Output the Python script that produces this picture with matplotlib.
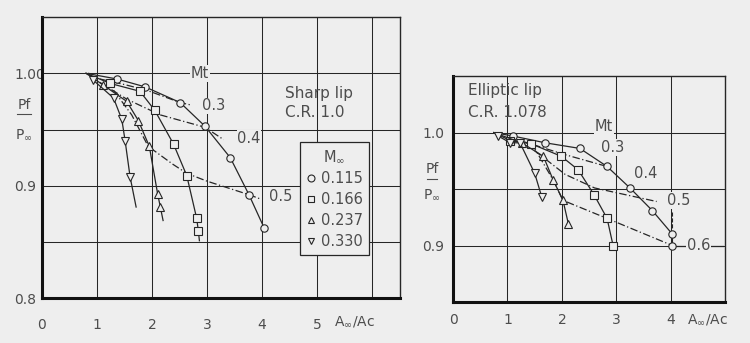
#!/usr/bin/env python3
"""
Intake pressure recovery Pf/P_inf vs capture area ratio, sharp and elliptic lip.
Two panels, redrawn from a scanned figure.
"""

import matplotlib
matplotlib.use("Agg")
import matplotlib.pyplot as plt
from matplotlib.lines import Line2D
from matplotlib.transforms import blended_transform_factory

PAPER = '#eeeeee'
INK = '#262626'
TEXT = '#4d4d4d'

# free stream Mach numbers and their symbols
mach_labels = ['0.115', '0.166', '0.237', '0.330']
mach_markers = ['o', 's', '^', 'v']

# --- Sharp lip, C.R. 1.0 (first point = common start, no symbol) ---
sharp_x_115 = [0.8, 1.36, 1.87, 2.51, 2.96, 3.42, 3.76, 4.04]
sharp_y_115 = [1.0, 0.995, 0.988, 0.974, 0.953, 0.925, 0.892, 0.862]
sharp_x_166 = [0.8, 1.24, 1.78, 2.05, 2.39, 2.63, 2.81, 2.84, 2.86]
sharp_y_166 = [1.0, 0.991, 0.984, 0.967, 0.937, 0.909, 0.871, 0.860, 0.851]
sharp_x_237 = [0.8, 1.1, 1.54, 1.75, 1.95, 2.1, 2.15, 2.2]
sharp_y_237 = [1.0, 0.99, 0.975, 0.958, 0.935, 0.893, 0.881, 0.869]
sharp_x_330 = [0.85, 0.93, 1.3, 1.45, 1.51, 1.6, 1.71]
sharp_y_330 = [1.0, 0.994, 0.978, 0.959, 0.94, 0.908, 0.881]
sharp_tail = [False, True, True, True]  # curve runs on past the last symbol

# constant throat Mach number lines
sharp_mt03_x = [1.05, 1.5, 1.9, 2.51, 2.69]
sharp_mt03_y = [0.995, 0.99, 0.985, 0.974, 0.972]
sharp_mt04_x = [1.05, 1.54, 2.15, 2.96, 3.3]
sharp_mt04_y = [0.992, 0.977, 0.963, 0.952, 0.941]
sharp_mt05_x = [1.3, 1.63, 1.93, 2.38, 2.63, 3.0, 3.76, 3.98]
sharp_mt05_y = [0.985, 0.963, 0.935, 0.919, 0.911, 0.904, 0.892, 0.888]

# --- Elliptic lip, C.R. 1.078 ---
ell_x_115 = [0.75, 1.1, 1.69, 2.33, 2.83, 3.25, 3.66, 4.03, 4.03]
ell_y_115 = [1.0, 0.997, 0.991, 0.986, 0.970, 0.951, 0.931, 0.910, 0.900]
ell_x_166 = [0.75, 1.05, 1.44, 1.99, 2.30, 2.59, 2.83, 2.94]
ell_y_166 = [1.0, 0.993, 0.99, 0.979, 0.967, 0.945, 0.924, 0.900]
ell_x_237 = [0.75, 1.26, 1.66, 1.84, 2.02, 2.12]
ell_y_237 = [1.0, 0.991, 0.979, 0.958, 0.94, 0.919]
ell_x_330 = [0.75, 0.83, 1.05, 1.23, 1.5, 1.63]
ell_y_330 = [1.0, 0.997, 0.991, 0.991, 0.964, 0.943]
ell_tail = [False, False, False, False]

ell_mt03_x = [1.23, 2.02, 2.83]
ell_mt03_y = [0.993, 0.981, 0.970]
ell_mt04_x = [1.5, 2.06, 2.6, 3.74]
ell_mt04_y = [0.984, 0.963, 0.951, 0.939]
ell_mt05_x = [1.45, 1.84, 2.02, 2.83, 4.03]
ell_mt05_y = [0.99, 0.958, 0.94, 0.924, 0.9]


def style_axes(ax, xlim, ylim, xgrid, ygrid, xticks, yticks, yticklabels,
               xpad, ypad):
    ax.set_facecolor(PAPER)
    ax.set_xlim(*xlim)
    ax.set_ylim(*ylim)
    for g in xgrid:
        ax.axvline(g, color=INK, lw=0.75, zorder=1)
    for g in ygrid:
        ax.axhline(g, color=INK, lw=0.75, zorder=1)
    ax.set_xticks(xticks)
    ax.set_xticklabels([str(t) for t in xticks])
    ax.set_yticks(yticks)
    ax.set_yticklabels(yticklabels)
    ax.tick_params(length=0, labelsize=10, labelcolor=TEXT)
    ax.tick_params(axis='x', pad=xpad)
    ax.tick_params(axis='y', pad=ypad)
    for lab in ax.get_yticklabels():
        lab.set_horizontalalignment('left')
    for side in ['left', 'bottom']:
        ax.spines[side].set_linewidth(2.2)
        ax.spines[side].set_color('#111111')
    for side in ['top', 'right']:
        ax.spines[side].set_linewidth(1.0)
        ax.spines[side].set_color(INK)


def draw_curves(ax, xs, ys, tails):
    for x, y, mk, tail in zip(xs, ys, mach_markers, tails):
        marked = slice(1, -1) if tail else slice(1, None)
        ax.plot(x, y, color=INK, lw=0.9, marker=mk, ms=5.3, mew=0.8,
                mfc=PAPER, mec=INK, markevery=marked, zorder=3)


def draw_mt(ax, lines):
    for x, y in lines:
        ax.plot(x, y, color=INK, lw=0.9, ls=(0, (6, 2, 1, 2)), zorder=2)


def pf_label(ax, xa, y_top, y_line, y_bot):
    ax.text(xa, y_top, 'Pf', transform=ax.transAxes, ha='center',
            va='center', fontsize=10, color=TEXT)
    ax.plot([xa - 0.02, xa + 0.02], [y_line, y_line], transform=ax.transAxes,
            color=TEXT, lw=0.8, clip_on=False)
    ax.text(xa, y_bot, r'P$_\infty$', transform=ax.transAxes, ha='center',
            va='center', fontsize=10, color=TEXT)


def label(ax, x, y, s, **kw):
    ax.text(x, y, s, fontsize=10.5, color=TEXT, ha='left', va='center',
            bbox=dict(facecolor=PAPER, edgecolor='none', pad=0.5), zorder=4,
            **kw)


def main():
    fig = plt.figure(figsize=(7.5, 3.43), dpi=100)
    fig.patch.set_facecolor(PAPER)

    # ---------------- left panel: sharp lip ----------------
    ax1 = fig.add_axes([0.056, 0.131, 0.477, 0.819])
    style_axes(ax1, (0, 6.5), (0.8, 1.05), [1, 2, 3, 4, 5, 6],
               [0.85, 0.9, 0.95, 1.0], [0, 1, 2, 3, 4, 5],
               [0.8, 0.9, 1.0], ['0.8', '0.9', '1.00'], xpad=14, ypad=20)
    draw_mt(ax1, [(sharp_mt03_x, sharp_mt03_y), (sharp_mt04_x, sharp_mt04_y),
                  (sharp_mt05_x, sharp_mt05_y)])
    draw_curves(ax1, [sharp_x_115, sharp_x_166, sharp_x_237, sharp_x_330],
                [sharp_y_115, sharp_y_166, sharp_y_237, sharp_y_330],
                sharp_tail)
    label(ax1, 2.7, 1.0, 'Mt')
    label(ax1, 2.9, 0.971, '0.3')
    label(ax1, 3.55, 0.942, '0.4')
    label(ax1, 4.12, 0.890, '0.5')
    ax1.text(4.42, 0.982, 'Sharp lip', fontsize=11, color=TEXT, va='center')
    ax1.text(4.42, 0.965, 'C.R. 1.0', fontsize=11, color=TEXT, va='center')

    handles = [Line2D([], [], ls='none', marker=mk, ms=5, mew=0.8,
                      mfc=PAPER, mec=INK) for mk in mach_markers]
    leg = ax1.legend(handles, mach_labels, title=r'M$_\infty$',
                     loc='upper left', bbox_to_anchor=(0.72, 0.555),
                     frameon=True, fancybox=False, edgecolor=INK,
                     facecolor=PAPER, framealpha=1, fontsize=10.5,
                     title_fontsize=10.5, handlelength=0.8, handletextpad=0.3,
                     labelspacing=0.42, borderpad=0.4, borderaxespad=0)
    leg.get_frame().set_linewidth(0.9)
    for t in leg.get_texts():
        t.set_color(TEXT)
    leg.get_title().set_color(TEXT)
    leg.set_zorder(5)

    pf_label(ax1, -0.05, 0.687, 0.655, 0.58)
    tr1 = blended_transform_factory(ax1.transData, ax1.transAxes)
    ax1.text(5.3, -0.085, r'A$_\infty$/Ac', transform=tr1, fontsize=10,
             color=TEXT, ha='left', va='center', clip_on=False)

    # ---------------- right panel: elliptic lip ----------------
    ax2 = fig.add_axes([0.604, 0.1195, 0.363, 0.6585])
    style_axes(ax2, (0, 5), (0.85, 1.05), [1, 2, 3, 4],
               [0.9, 0.95, 1.0], [0, 1, 2, 3, 4],
               [0.9, 1.0], ['0.9', '1.0'], xpad=8, ypad=22)
    draw_mt(ax2, [(ell_mt03_x, ell_mt03_y), (ell_mt04_x, ell_mt04_y),
                  (ell_mt05_x, ell_mt05_y)])
    draw_curves(ax2, [ell_x_115, ell_x_166, ell_x_237, ell_x_330],
                [ell_y_115, ell_y_166, ell_y_237, ell_y_330], ell_tail)
    ax2.plot([4.08, 4.95], [0.9, 0.9], color=INK, lw=0.9, zorder=2)
    ax2.plot([4.03, 4.03], [0.93, 0.915], color=INK, lw=0.8, ls='--',
             zorder=2)
    label(ax2, 2.6, 1.005, 'Mt')
    label(ax2, 2.72, 0.987, '0.3')
    label(ax2, 3.33, 0.964, '0.4')
    label(ax2, 3.93, 0.940, '0.5')
    label(ax2, 4.3, 0.900, '0.6')
    ax2.text(0.28, 1.037, 'Elliptic lip', fontsize=11, color=TEXT,
             va='center')
    ax2.text(0.28, 1.018, 'C.R. 1.078', fontsize=11, color=TEXT,
             va='center')

    pf_label(ax2, -0.077, 0.588, 0.545, 0.473)
    tr2 = blended_transform_factory(ax2.transData, ax2.transAxes)
    ax2.text(4.29, -0.08, r'A$_\infty$/Ac', transform=tr2, fontsize=10,
             color=TEXT, ha='left', va='center', clip_on=False)

    fig.savefig('out.png', dpi=100, facecolor=PAPER)
    plt.close(fig)


if __name__ == "__main__":
    main()
